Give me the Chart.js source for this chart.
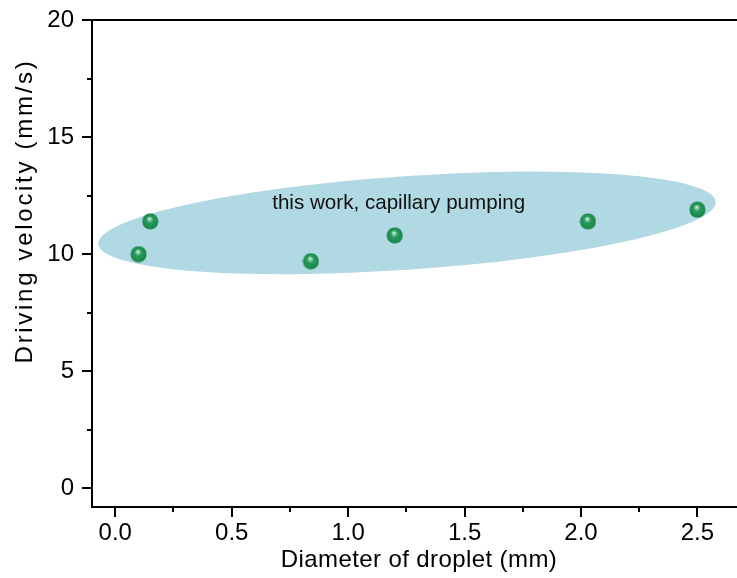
<!DOCTYPE html>
<html>
<head>
<meta charset="utf-8">
<script src="https://cdn.jsdelivr.net/npm/chart.js@4"></script>
<style>
  html, body { margin: 0; padding: 0; background: #fff; }
  #wrap { width: 737px; height: 578px; }
</style>
</head>
<body>
<div id="wrap"><canvas id="c" width="737" height="578"></canvas></div>
<script>
// ---- data ----
const diameters = [0.10, 0.15, 0.84, 1.20, 2.03, 2.50];
const velocities = [10.0, 11.4, 9.7, 10.8, 11.4, 11.9];
const xMajorTicks = [0, 0.5, 1.0, 1.5, 2.0, 2.5];
const xMinorTicks = [0.25, 0.75, 1.25, 1.75, 2.25];
const yMajorTicks = [0, 5, 10, 15, 20];
const yMinorTicks = [2.5, 7.5, 12.5, 17.5];
const xTitle = 'Diameter of droplet (mm)';
const yTitle = 'Driving velocity (mm/s)';
const regionLabel = 'this work, capillary pumping';
// region (ellipse) ends and label anchor in data units
const regionLeft = [-0.073, 10.43];
const regionRight = [2.579, 12.24];
const regionHalfWidth = 2.0;
const labelAnchor = [1.217, 12.18];

// ---- sphere marker ----
function makeSphere() {
  const s = 17, c = document.createElement('canvas');
  c.width = s; c.height = s;
  const g = c.getContext('2d');
  const m = s / 2;
  const grad = g.createRadialGradient(m - 0.8, m - 2.8, 0.2, m, m, 8.2);
  grad.addColorStop(0, '#e4f4ea');
  grad.addColorStop(0.16, '#8fd0aa');
  grad.addColorStop(0.42, '#27995b');
  grad.addColorStop(0.85, '#1a8c4b');
  grad.addColorStop(1, '#12743a');
  g.fillStyle = grad;
  g.beginPath(); g.arc(m, m, 8, 0, Math.PI * 2); g.fill();
  return c;
}
const sphere = makeSphere();

const FONT = "'Liberation Sans', Arial, Helvetica, sans-serif";

const decorPlugin = {
  id: 'decor',
  beforeDatasetsDraw(chart) {
    const {ctx, scales: {x, y}} = chart;
    const x1 = x.getPixelForValue(regionLeft[0]), y1 = y.getPixelForValue(regionLeft[1]);
    const x2 = x.getPixelForValue(regionRight[0]), y2 = y.getPixelForValue(regionRight[1]);
    const cx = (x1 + x2) / 2, cy = (y1 + y2) / 2;
    const a = Math.hypot(x2 - x1, y2 - y1) / 2;
    const b = Math.abs(y.getPixelForValue(0) - y.getPixelForValue(regionHalfWidth));
    const ang = Math.atan2(y2 - y1, x2 - x1);
    ctx.save();
    ctx.fillStyle = '#b0d9e3';
    ctx.beginPath();
    ctx.ellipse(cx, cy, a, b, ang, 0, Math.PI * 2);
    ctx.fill();
    ctx.fillStyle = '#111';
    ctx.font = '20.6px ' + FONT;
    ctx.textAlign = 'center';
    ctx.textBaseline = 'middle';
    ctx.fillText(regionLabel, x.getPixelForValue(labelAnchor[0]), y.getPixelForValue(labelAnchor[1]));
    ctx.restore();
  },
  afterDraw(chart) {
    const {ctx, chartArea, scales: {x, y}} = chart;
    ctx.save();
    ctx.strokeStyle = '#000';
    ctx.lineWidth = 2;
    ctx.beginPath();
    xMajorTicks.forEach(v => { const p = Math.round(x.getPixelForValue(v)); ctx.moveTo(p, chartArea.bottom); ctx.lineTo(p, chartArea.bottom + 10); });
    xMinorTicks.forEach(v => { const p = Math.round(x.getPixelForValue(v)); ctx.moveTo(p, chartArea.bottom); ctx.lineTo(p, chartArea.bottom + 5); });
    yMajorTicks.forEach(v => { const p = Math.round(y.getPixelForValue(v)); ctx.moveTo(chartArea.left, p); ctx.lineTo(chartArea.left - 10, p); });
    yMinorTicks.forEach(v => { const p = Math.round(y.getPixelForValue(v)); ctx.moveTo(chartArea.left, p); ctx.lineTo(chartArea.left - 5, p); });
    ctx.stroke();
    ctx.fillStyle = '#000';
    ctx.textAlign = 'center';
    ctx.textBaseline = 'middle';
    // x axis title
    ctx.save();
    ctx.font = '24px ' + FONT;
    if ('letterSpacing' in ctx) ctx.letterSpacing = '0.4px';
    ctx.fillText(xTitle, 419, 560);
    ctx.restore();
    // y axis title (rotated)
    ctx.font = '24px ' + FONT;
    if ('letterSpacing' in ctx) ctx.letterSpacing = '2.7px';
    ctx.translate(25, 211);
    ctx.rotate(-Math.PI / 2);
    ctx.fillText(yTitle, 0, 0);
    ctx.restore();
  }
};

new Chart(document.getElementById('c'), {
  type: 'scatter',
  data: {
    datasets: [{
      data: diameters.map((d, i) => ({x: d, y: velocities[i]})),
      pointStyle: sphere,
      pointRadius: 8,
      pointHoverRadius: 8
    }]
  },
  options: {
    responsive: false,
    animation: false,
    events: [],
    layout: { autoPadding: false, padding: { top: 20, right: 0, bottom: 0, left: 0 } },
    plugins: { legend: { display: false }, tooltip: { enabled: false } },
    scales: {
      x: {
        type: 'linear', position: 'bottom', min: -0.1, max: 2.67,
        afterBuildTicks: s => { s.ticks = xMajorTicks.map(v => ({value: v})); },
        afterFit: s => { s.height = 71; s.paddingLeft = 0; s.paddingRight = 0; },
        grid: { display: false, drawTicks: true, tickLength: 10 },
        border: { display: true, color: '#000', width: 2 },
        ticks: { color: '#000', font: { family: FONT, size: 24 }, padding: 2, maxRotation: 0, callback: v => Number(v).toFixed(1) },
        title: { display: false }
      },
      x2: {
        type: 'linear', position: 'top', min: -0.1, max: 2.67,
        afterFit: s => { s.height = 0; s.paddingLeft = 0; s.paddingRight = 0; },
        grid: { display: false, drawTicks: false },
        border: { display: true, color: '#000', width: 2 },
        ticks: { display: false }
      },
      y: {
        type: 'linear', position: 'left', min: -0.8, max: 20,
        afterBuildTicks: s => { s.ticks = yMajorTicks.map(v => ({value: v})); },
        afterFit: s => { s.width = 92; s.paddingTop = 0; s.paddingBottom = 0; },
        grid: { display: false, drawTicks: true, tickLength: 10 },
        border: { display: true, color: '#000', width: 2 },
        ticks: { color: '#000', font: { family: FONT, size: 24 }, padding: 8, callback: v => String(v) },
        title: { display: false }
      }
    }
  },
  plugins: [decorPlugin]
});
</script>
</body>
</html>
